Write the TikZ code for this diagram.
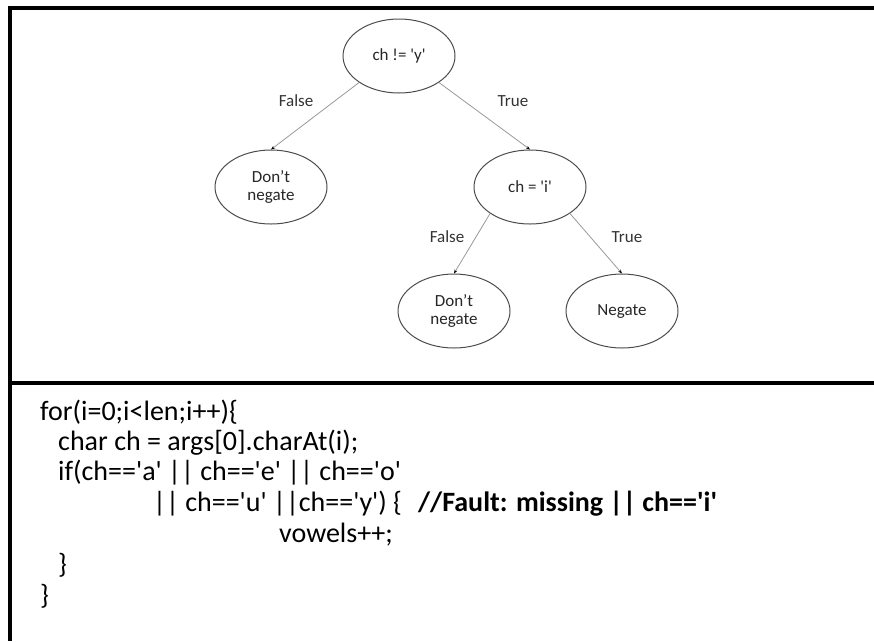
\documentclass[tikz,border=0pt]{standalone}
\usepackage{fontspec}
\setmainfont{Carlito}
\usetikzlibrary{arrows.meta,shapes.geometric}
\newcommand{\sqt}{\textquotesingle}

\begin{document}
\begin{tikzpicture}[x=1pt,y=-1pt,
    test/.style={draw=black!70,line width=1pt,shape=ellipse,inner sep=0pt,
      minimum width=112pt,minimum height=74pt,align=center,text=black!85,
      font=\fontsize{17}{18}\selectfont},
    branch/.style={draw=black!40,line width=0.8pt,
      -{Stealth[length=4pt,width=3pt,color=black]}},
    lbl/.style={text=black!80,font=\fontsize{17}{18}\selectfont},
    codeline/.style={anchor=base west,inner sep=0pt,font=\fontsize{28}{30}\selectfont}]
      \useasboundingbox (0,0) rectangle (874,641) ;
      % frame and separator
      \draw[line width=4pt] (874,8)--(10,8)--(10,641) ;
      \draw[line width=4pt] (8,383)--(874,383) ;
      % decision tree
      \node[test] (rootq) at (399,56) {ch != \sqt y\sqt} ;
      \node[test] (keepL) at (271,187) {Don’t\\negate} ;
      \node[test] (chi) at (530,187) {ch = \sqt i\sqt} ;
      \node[test] (keepR) at (454,311) {Don’t\\negate} ;
      \node[test] (neg) at (622,311) {Negate} ;
      \draw[branch] (rootq.south west) -- (keepL.north) ;
      \draw[branch] (rootq.south east) -- (chi.north) ;
      \draw[branch] (chi.south west) -- (keepR.north) ;
      \draw[branch] (chi.south east) -- (neg.north) ;
      \node[lbl] (fA) at (296,101) {False} ;
      \node[lbl] (tA) at (513,101) {True} ;
      \node[lbl] (fB) at (447,237) {False} ;
      \node[lbl] (tB) at (627,237) {True} ;
      % the code below
      \node[codeline] (c1) at (40,420) {for(i=0;i<len;i++)\{} ;
      \node[codeline] (c2) at (58,450) {char ch = args[0].charAt(i);} ;
      \node[codeline] (c3) at (58,480) {if(ch==\sqt a\sqt\ || ch==\sqt e\sqt\ || ch==\sqt o\sqt} ;
      \node[codeline] (c4) at (153,511) {|| ch==\sqt u\sqt\ ||ch==\sqt y\sqt) \{} ;
      \node[codeline,font=\fontsize{28}{30}\selectfont\bfseries] (fault) at (418,511)
        {//Fault: missing || ch==\sqt i\sqt} ;
      \node[codeline] (c5) at (279,542) {vowels++;} ;
      \node[codeline] (c6) at (58,573) {\}} ;
      \node[codeline] (c7) at (40,604) {\}} ;
    \end{tikzpicture}
\end{document}
